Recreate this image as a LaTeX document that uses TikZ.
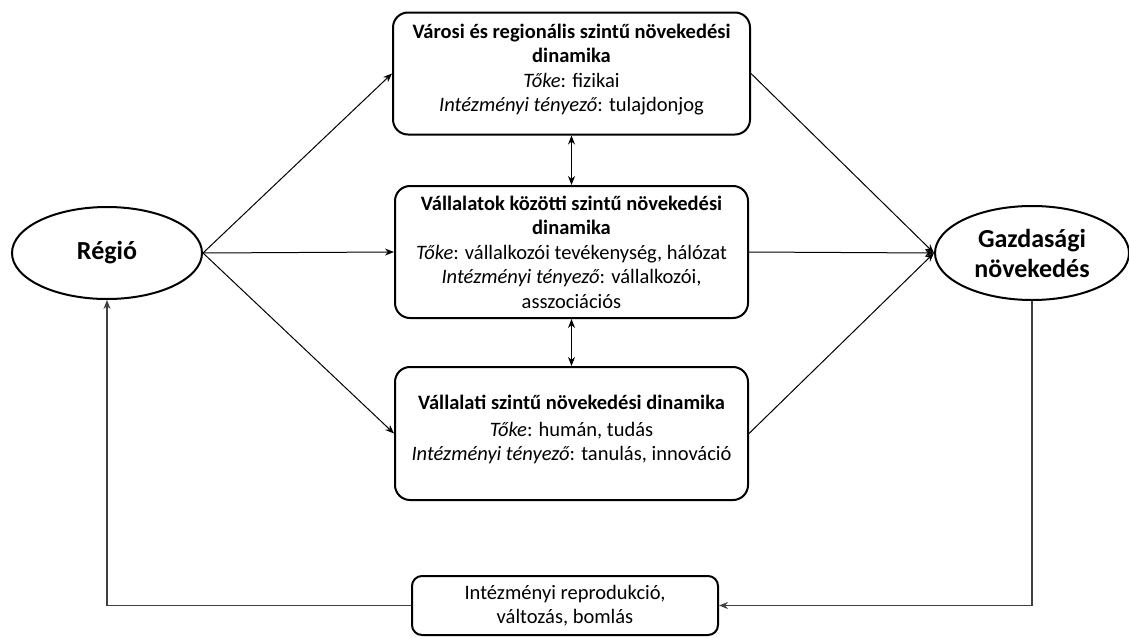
\documentclass[tikz,border=0pt]{standalone}
\usepackage{fontspec}
\setmainfont{Carlito}
\usetikzlibrary{arrows.meta,shapes.geometric}
\begin{document}
\begin{tikzpicture}[x=1pt,y=-1pt,
  box/.style={draw,line width=2pt,rounded corners=15pt,inner sep=0pt},
  txt/.style={align=center,inner sep=0pt,font={\fontsize{20.5}{24.5}\selectfont}},
  oval/.style={draw,line width=2pt,ellipse,inner sep=0pt,align=center,
    font={\fontsize{26}{30}\selectfont\bfseries}},
  flow/.style={line width=1pt,-{Stealth[length=9pt,width=7pt]}},
  both/.style={line width=1pt,{Stealth[length=9pt,width=7pt]}-{Stealth[length=9pt,width=7pt]}},
  back/.style={line width=1.6pt,draw=black!75,-{Stealth[length=9pt,width=7pt]}}]
\useasboundingbox (0,0) rectangle (1129,637);

% outer ovals
\node[oval,minimum width=190pt,minimum height=92pt] (R) at (107,253) {Régió};
\node[oval,minimum width=194pt,minimum height=94pt] (G) at (1032,253) {Gazdasági\\növekedés};

% three growth-dynamics levels
\node[box,minimum width=357pt,minimum height=122pt] (top) at (571.5,73.5) {};
\node[txt,anchor=north] (topT) at ([yshift=-12pt]top.north)
  {\textbf{Városi és regionális szintű növekedési}\\\textbf{dinamika}\\
   \textit{Tőke}: fizikai\\\textit{Intézményi tényező}: tulajdonjog};

\node[box,txt,minimum width=353pt,minimum height=132pt] (mid) at (571.5,252)
  {\textbf{Vállalatok közötti szintű növekedési}\\\textbf{dinamika}\\
   \textit{Tőke}: vállalkozói tevékenység, hálózat\\
   \textit{Intézményi tényező}: vállalkozói,\\asszociációs};

\node[box,minimum width=353pt,minimum height=133pt] (bot) at (571.5,433.5) {};
\node[txt,anchor=north] (botT) at ([yshift=-29pt]bot.north)
  {\textbf{Vállalati szintű növekedési dinamika}\\[2pt]
   \textit{Tőke}: humán, tudás\\\textit{Intézményi tényező}: tanulás, innováció};

% feedback box
\node[box,txt,rounded corners=10pt,minimum width=306pt,minimum height=59pt] (fb) at (565,605.5)
  {\raisebox{-2pt}{Intézményi reprodukció,}\\\raisebox{-2pt}{változás, bomlás}};

% connectors
\draw[flow] (R.east) -- (top.west);
\draw[flow] (R.east) -- (mid.west);
\draw[flow] (R.east) -- (bot.west);
\draw[flow] (top.east) -- (G.west);
\draw[flow] (mid.east) -- (G.west);
\draw[flow] (bot.east) -- (G.west);
\draw[both] (top.south) -- (mid.north);
\draw[both] (mid.south) -- (bot.north);
\draw[back] (G.south) |- (fb.east);
\draw[back] (fb.west) -| (R.south);
\end{tikzpicture}
\end{document}
